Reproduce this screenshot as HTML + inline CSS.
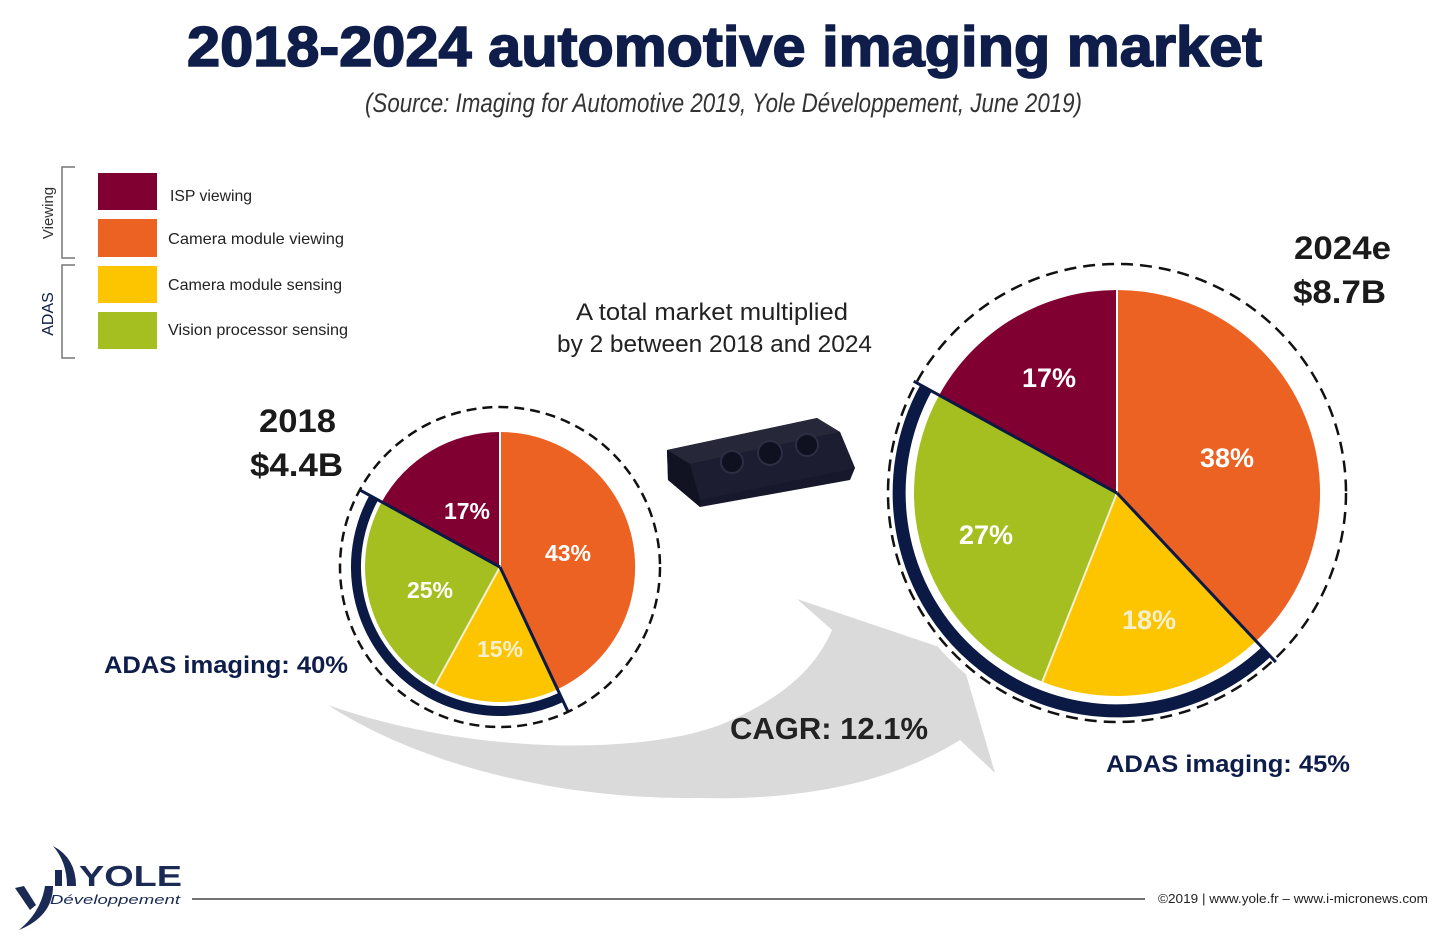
<!DOCTYPE html>
<html><head><meta charset="utf-8"><style>
html,body{margin:0;padding:0;background:#fff;}
svg{display:block;}
text{font-family:"Liberation Sans",sans-serif;}
</style></head><body>
<svg width="1440" height="944" viewBox="0 0 1440 944" xmlns="http://www.w3.org/2000/svg">
<rect width="1440" height="944" fill="#fff"/>
<!-- Title -->
<text x="187" y="66" font-size="57" font-weight="bold" fill="#0e1d4a" stroke="#0e1d4a" stroke-width="1.6" textLength="1075" lengthAdjust="spacingAndGlyphs">2018-2024 automotive imaging market</text>
<text x="365" y="112" font-size="27" font-style="italic" fill="#333" textLength="717" lengthAdjust="spacingAndGlyphs">(Source: Imaging for Automotive 2019, Yole Développement, June 2019)</text>

<!-- Legend brackets -->
<path d="M75,167 L62,167 L62,258 L75,258" fill="none" stroke="#777" stroke-width="1.5"/>
<path d="M75,265 L62,265 L62,358 L75,358" fill="none" stroke="#777" stroke-width="1.5"/>
<text transform="translate(53,213) rotate(-90)" text-anchor="middle" font-size="15" fill="#333">Viewing</text>
<text transform="translate(53,314) rotate(-90)" text-anchor="middle" font-size="16" fill="#0e1d4a">ADAS</text>
<rect x="98" y="173" width="59" height="37" fill="#800032"/>
<rect x="98" y="219" width="59" height="38" fill="#ec6222"/>
<rect x="98" y="266" width="59" height="37" fill="#fcc500"/>
<rect x="98" y="312" width="59" height="37" fill="#a4bf1f"/>
<text x="170" y="201" font-size="16" fill="#222" textLength="82" lengthAdjust="spacingAndGlyphs">ISP viewing</text>
<text x="168" y="244" font-size="16" fill="#222" textLength="176" lengthAdjust="spacingAndGlyphs">Camera module viewing</text>
<text x="168" y="290" font-size="16" fill="#222" textLength="174" lengthAdjust="spacingAndGlyphs">Camera module sensing</text>
<text x="168" y="335" font-size="16" fill="#222" textLength="180" lengthAdjust="spacingAndGlyphs">Vision processor sensing</text>

<!-- Middle text -->
<text x="576" y="320" font-size="24" fill="#222" textLength="272" lengthAdjust="spacingAndGlyphs">A total market multiplied</text>
<text x="557" y="352" font-size="24" fill="#222" textLength="315" lengthAdjust="spacingAndGlyphs">by 2 between 2018 and 2024</text>

<!-- Camera device -->
<polygon points="667,450 817,418 840,432 855,468 850,480 700,507 668,480" fill="#17182b"/>
<polygon points="667,450 817,418 840,432 690,464" fill="#262739"/>
<polygon points="690,464 840,432 855,468 700,500" fill="#1c1d31"/>
<polygon points="667,450 690,464 700,500 700,507 668,480" fill="#111222"/>
<circle cx="732" cy="462" r="11" fill="#0f1020" stroke="#2d2e44" stroke-width="2"/>
<circle cx="770" cy="453" r="12" fill="#0f1020" stroke="#2d2e44" stroke-width="2"/>
<circle cx="807" cy="445" r="11" fill="#0f1020" stroke="#2d2e44" stroke-width="2"/>

<!-- Gray arrow -->
<path d="M328,705 C470,755 640,755 720,725 C780,700 815,670 832,630 L797,599 L960,654 L995,773 L960,740 C880,790 780,800 700,798 C560,800 420,765 328,705 Z" fill="#dadada"/>

<!-- white disks -->
<circle cx="500" cy="567" r="163" fill="#fff"/>
<circle cx="1117" cy="493" r="236" fill="#fff"/>

<!-- Small pie -->
<g>
<path d="M500,567 L500,432 A135,135 0 0 1 557.5,689.2 Z" fill="#ec6222"/>
<path d="M500,567 L557.5,689.2 A135,135 0 0 1 435.0,685.3 Z" fill="#fcc500"/>
<path d="M500,567 L435.0,685.3 A135,135 0 0 1 381.7,502.0 Z" fill="#a4bf1f"/>
<path d="M500,567 L381.7,502.0 A135,135 0 0 1 500,432 Z" fill="#800032"/>
<line x1="500" y1="567" x2="500" y2="432" stroke="#fff" stroke-width="2"/>
<line x1="500" y1="567" x2="435.0" y2="685.3" stroke="#f4f0d8" stroke-width="2"/>
<path d="M561.3,697.3 A144,144 0 0 1 373.8,497.6" fill="none" stroke="#0b1a45" stroke-width="10"/>
<line x1="500" y1="567" x2="568.1" y2="711.8" stroke="#0b1a45" stroke-width="3"/>
<line x1="500" y1="567" x2="359.8" y2="489.9" stroke="#0b1a45" stroke-width="3"/>
<circle cx="500" cy="567" r="160" fill="none" stroke="#111" stroke-width="2.5" stroke-dasharray="10 6"/>
</g>

<!-- Large pie -->
<g>
<path d="M1117,493 L1117,290 A203,203 0 0 1 1256.0,641.0 Z" fill="#ec6222"/>
<path d="M1117,493 L1256.0,641.0 A203,203 0 0 1 1042.3,681.7 Z" fill="#fcc500"/>
<path d="M1117,493 L1042.3,681.7 A203,203 0 0 1 939.1,395.2 Z" fill="#a4bf1f"/>
<path d="M1117,493 L939.1,395.2 A203,203 0 0 1 1117,290 Z" fill="#800032"/>
<line x1="1117" y1="493" x2="1117" y2="290" stroke="#fff" stroke-width="2"/>
<line x1="1117" y1="493" x2="1042.3" y2="681.7" stroke="#f4f0d8" stroke-width="2"/>
<path d="M1266.2,651.9 A218,218 0 0 1 926.0,388.0" fill="none" stroke="#0b1a45" stroke-width="13"/>
<line x1="1117" y1="493" x2="1275.8" y2="662.1" stroke="#0b1a45" stroke-width="3"/>
<line x1="1117" y1="493" x2="913.7" y2="381.2" stroke="#0b1a45" stroke-width="3"/>
<circle cx="1117" cy="493" r="229" fill="none" stroke="#111" stroke-width="2.5" stroke-dasharray="12 7"/>
</g>

<!-- Pie labels -->
<g font-weight="bold" fill="#fff" text-anchor="middle">
<text x="467" y="519" font-size="23">17%</text>
<text x="568" y="561" font-size="23">43%</text>
<text x="430" y="598" font-size="23">25%</text>
<text x="500" y="657" font-size="23" fill="#f3efcf">15%</text>
<text x="1049" y="387" font-size="27">17%</text>
<text x="1227" y="467" font-size="27">38%</text>
<text x="986" y="544" font-size="27">27%</text>
<text x="1149" y="629" font-size="27" fill="#f3efcf">18%</text>
</g>

<!-- Year / value labels -->
<g font-weight="bold" fill="#1a1a1a">
<text x="259" y="432" font-size="32" textLength="77" lengthAdjust="spacingAndGlyphs">2018</text>
<text x="250" y="476" font-size="32" textLength="93" lengthAdjust="spacingAndGlyphs">$4.4B</text>
<text x="1294" y="259" font-size="32" textLength="97" lengthAdjust="spacingAndGlyphs">2024e</text>
<text x="1293" y="303" font-size="32" textLength="93" lengthAdjust="spacingAndGlyphs">$8.7B</text>
</g>
<text x="104" y="673" font-size="24" font-weight="bold" fill="#0e1d4a" textLength="244" lengthAdjust="spacingAndGlyphs">ADAS imaging: 40%</text>
<text x="1106" y="772" font-size="24" font-weight="bold" fill="#0e1d4a" textLength="244" lengthAdjust="spacingAndGlyphs">ADAS imaging: 45%</text>
<text x="730" y="739" font-size="31" font-weight="bold" fill="#222" textLength="198" lengthAdjust="spacingAndGlyphs">CAGR: 12.1%</text>

<!-- Footer -->
<line x1="192" y1="899" x2="1145" y2="899" stroke="#444" stroke-width="1.5"/>
<text x="1158" y="903" font-size="13" fill="#222" textLength="270" lengthAdjust="spacingAndGlyphs">©2019 | www.yole.fr – www.i-micronews.com</text>

<!-- Logo -->
<path d="M53,846 Q76,858 76,886 L67,886 Q67,862 53,846 Z" fill="#1b2a55"/>
<rect x="55" y="870" width="7" height="16" fill="#1b2a55"/>
<path d="M45,886 L53,886 Q53,916 19,930 Q41,912 45,886 Z" fill="#1b2a55"/>
<path d="M15,888 L24,886 L36,905 L30,910 Z" fill="#1b2a55"/>
<text x="79" y="886" font-size="29" font-weight="bold" fill="#1b2a55" textLength="103" lengthAdjust="spacingAndGlyphs">YOLE</text>
<text x="50" y="904" font-size="13" font-style="italic" fill="#1b2a55" textLength="130" lengthAdjust="spacingAndGlyphs">Développement</text>
</svg>
</body></html>
